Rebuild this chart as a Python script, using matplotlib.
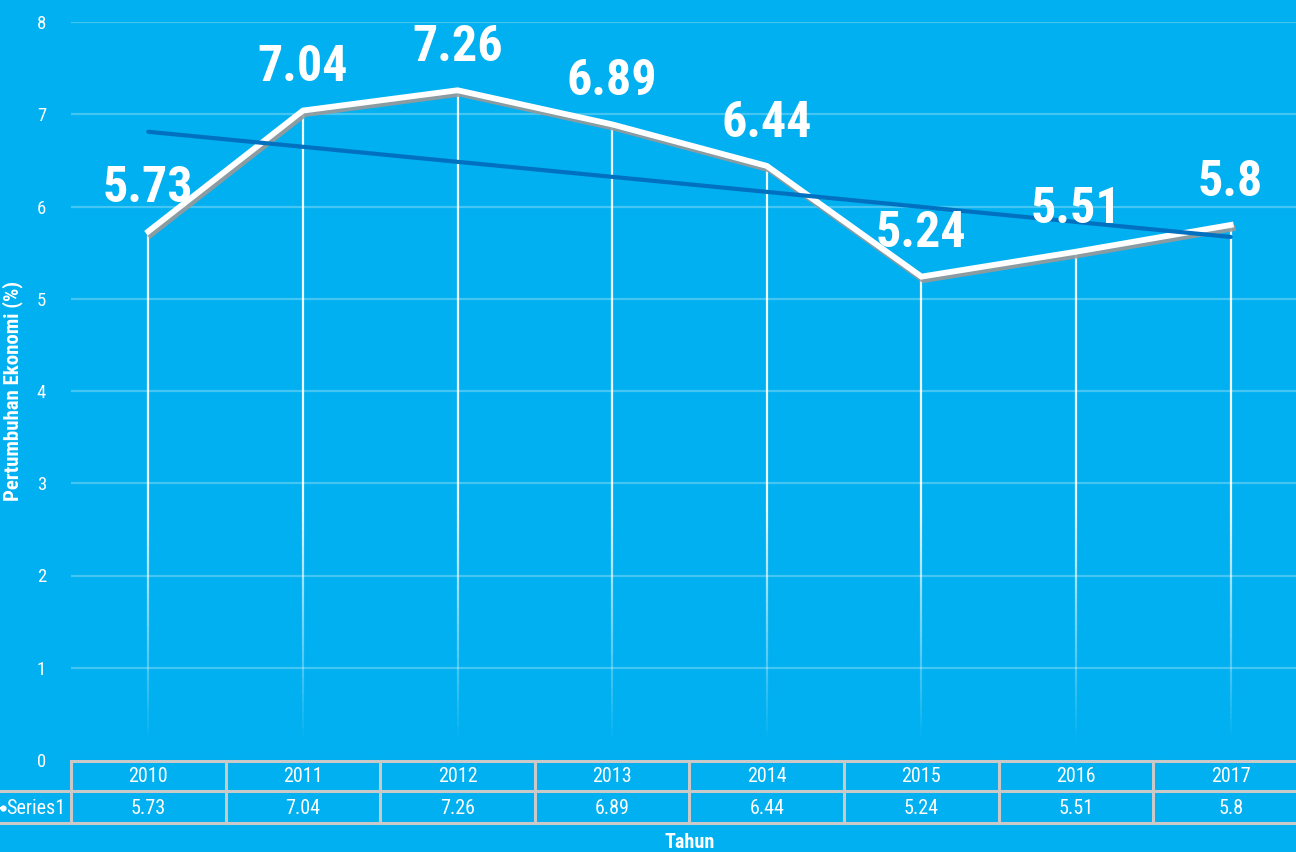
"""
Pertumbuhan ekonomi 2010-2017: white line with drop lines, linear trend, data table below.
"""
import matplotlib
matplotlib.use("Agg")
import matplotlib.pyplot as plt
import matplotlib.patheffects as pe
from matplotlib.collections import LineCollection
from matplotlib.lines import Line2D
import numpy as np

plt.rcParams["font.family"] = ["Roboto Condensed", "Liberation Sans", "DejaVu Sans"]

years = ["2010", "2011", "2012", "2013", "2014", "2015", "2016", "2017"]
growth = [5.73, 7.04, 7.26, 6.89, 6.44, 5.24, 5.51, 5.8]
trend_ends = [6.81, 5.67]          # trendline (first, last year)
series_name = "Series1"
y_label = "Pertumbuhan Ekonomi (%)"
x_label = "Tahun"

BG = "#00b0f0"
GRID = "#45c5f2"
TABLE = "#c9c9c9"
TREND = "#0070c0"

W, H = 1296, 852
fx = lambda px: px / W
fy = lambda py: 1 - py / H

fig = plt.figure(figsize=(W / 100, H / 100), dpi=100, facecolor=BG)
# plot area: x 71..1308 px (runs just past the right edge), y 22..760 px
AX_L, AX_R = 71, 1308
ax = fig.add_axes([fx(AX_L), fy(760), (AX_R - AX_L) / W, (760 - 22) / H], facecolor=BG)
n = len(years)
x = np.arange(n)
ax.set_xlim(-0.5, n - 0.5)
ax.set_ylim(0, 8)
for s in ax.spines.values():
    s.set_visible(False)
ax.set_xticks([])
ax.set_yticks(range(0, 9))
ax.tick_params(axis="y", length=0, pad=18, labelsize=13.5, labelcolor="white")
for v in range(1, 9):
    ax.axhline(v, color=GRID, lw=1.6, zorder=1)

# drop lines fading toward the floor
for xi, v in zip(x, growth):
    ys = np.linspace(0, v, 80)
    segs = [[(xi, ys[i]), (xi, ys[i + 1])] for i in range(len(ys) - 1)]
    mid = (ys[:-1] + ys[1:]) / 2
    al = np.clip((mid - 0.2) / 2.6, 0, 1) * 0.95
    cols = [(1, 1, 1, a) for a in al]
    ax.add_collection(LineCollection(segs, colors=cols, linewidths=1.6, zorder=2))

ax.plot(x, growth, color="white", lw=4.2, solid_joinstyle="miter", zorder=4,
        path_effects=[pe.SimpleLineShadow(offset=(1.5, -2.5), shadow_color="#9a9a9a", alpha=0.9),
                      pe.Normal()])
ax.plot([x[0], x[-1]], trend_ends, color=TREND, lw=3.0, solid_capstyle="round", zorder=5)

for xi, v in zip(x, growth):
    ax.annotate(f"{v:g}", (xi, v), xytext=(0, 21), textcoords="offset points",
                ha="center", va="baseline", fontsize=36, fontweight="bold",
                color="white", zorder=6)

ax.set_ylabel(y_label, color="white", fontsize=15, fontweight="bold")
ax.yaxis.set_label_coords((23 - AX_L) / (AX_R - AX_L), 0.5)

# data table under the axis
def hline(x0, x1, py):
    fig.add_artist(Line2D([fx(x0), fx(x1)], [fy(py), fy(py)], color=TABLE, lw=2.2))

def vline(px, y0, y1):
    fig.add_artist(Line2D([fx(px), fx(px)], [fy(y0), fy(y1)], color=TABLE, lw=2.2))

cw = (AX_R - AX_L) / n
hline(AX_L, W, 761)
hline(0, W, 791)
hline(0, W, 823)
for i in range(n + 1):
    vline(AX_L + i * cw, 761, 823)
for i, (yr, v) in enumerate(zip(years, growth)):
    cx = AX_L + (i + 0.5) * cw
    fig.text(fx(cx), fy(777), yr, ha="center", va="center", fontsize=14.5, color="white")
    fig.text(fx(cx), fy(808), f"{v:g}", ha="center", va="center", fontsize=14.5, color="white")
fig.text(fx(6), fy(808), series_name, ha="left", va="center", fontsize=14.5, color="white")
fig.add_artist(Line2D([fx(-8), fx(3)], [fy(808), fy(808)], color="white", lw=1.5,
                      marker="o", markersize=3.5, markevery=[1]))
fig.text(fx(690), fy(842), x_label, ha="center", va="center", fontsize=14.5,
         fontweight="bold", color="white")

fig.savefig("out.png", dpi=100, facecolor=BG)
